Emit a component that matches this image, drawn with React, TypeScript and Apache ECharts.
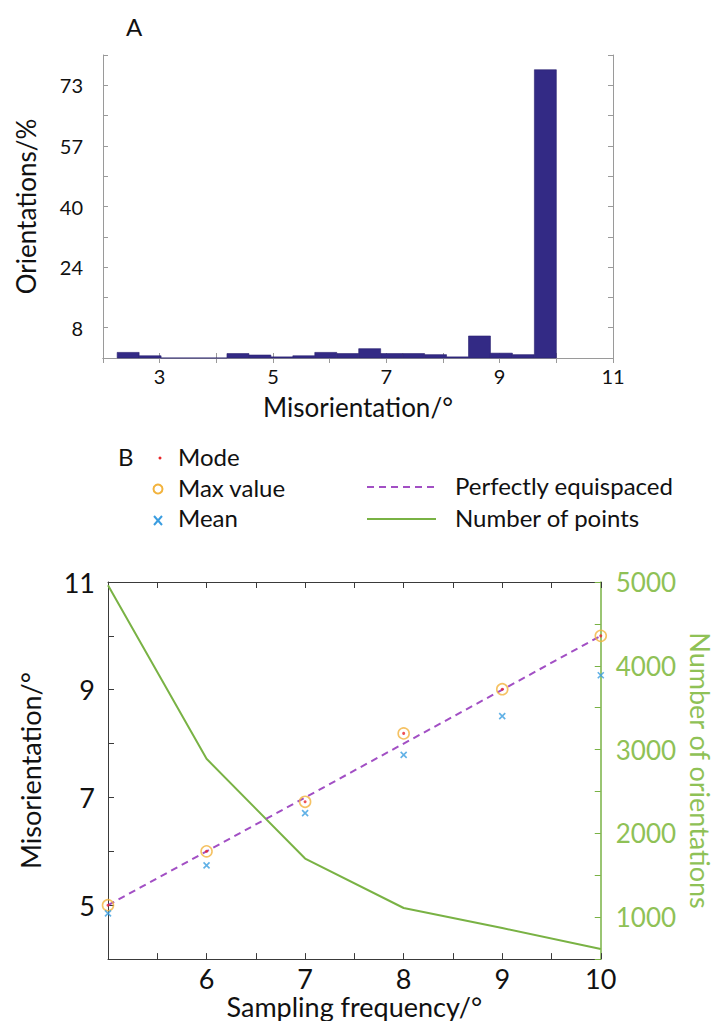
import React, { useEffect, useRef } from 'react';
import * as echarts from 'echarts';

// Panel A: histogram of misorientation (percent of orientations per bin)
const histBinStart = 2.25;
const histBinWidth = 0.3875;
const histPercent = [1.5, 0.6, 0, 0, 0, 1.2, 0.8, 0.3, 0.6, 1.5, 1.2, 2.5, 1.2, 1.2, 0.9, 0.3, 5.9, 1.3, 0.9, 77.3];
const histYStep = 8.125;
const histYTickLabels = ['8', '24', '40', '57', '73'];

// Panel B: statistics versus sampling frequency
const samplingFreq = [5, 6, 7, 8, 9, 10];
const modeValues = [5.0, 6.0, 6.92, 8.19, 9.01, 10.0];
const maxValues = [5.0, 6.0, 6.92, 8.19, 9.01, 10.0];
const meanValues = [4.85, 5.74, 6.71, 7.79, 8.51, 9.27];
const pointCounts = [4960, 2890, 1700, 1110, 870, 620];
const equispacedEnds = [5, 10];

const FONT = 'Lato';
const BAR = '#332a85';
const GREEN_LINE = '#79b244';
const GREEN_TEXT = '#8fc156';
const PURPLE = '#a24fc4';
const ORANGE = '#f2b33d';
const RED = '#e8262a';
const BLUE = '#3a9de0';
const INK = '#111111';

const xMark = 'path://M0,0L10,10M10,0L0,10';

export default function App() {
  const ref = useRef<HTMLDivElement>(null);

  useEffect(() => {
    if (!ref.current) return;
    const chart = echarts.init(ref.current, undefined, { renderer: 'svg' });

    const histData = histPercent.map((v, i) => [
      histBinStart + i * histBinWidth,
      histBinStart + (i + 1) * histBinWidth,
      v,
    ]);

    const grayAxis = { lineStyle: { color: '#9a9a9a', width: 1 } };
    const darkAxis = { lineStyle: { color: '#3a3a3a', width: 1 } };

    const option: any = {
      animation: false,
      backgroundColor: '#ffffff',
      textStyle: { fontFamily: FONT },
      grid: [
        { left: 103, top: 55, width: 510, height: 303 },
        { left: 108, top: 582, width: 498, height: 386 },
      ],
      xAxis: [
        {
          gridIndex: 0,
          type: 'value',
          min: 2,
          max: 11,
          interval: 1,
          position: 'bottom',
          axisLine: grayAxis,
          axisTick: { inside: true, length: 5, lineStyle: { color: '#9a9a9a' } },
          splitLine: { show: false },
          axisLabel: {
            fontFamily: FONT,
            fontSize: 20,
            color: INK,
            margin: 8,
            formatter: (v: number) => (v % 2 === 1 ? String(v) : ''),
          },
          name: 'Misorientation/°',
          nameLocation: 'middle',
          nameGap: 36,
          nameTextStyle: { fontFamily: FONT, fontSize: 26, color: INK },
        },
        {
          gridIndex: 0,
          type: 'value',
          min: 2,
          max: 11,
          interval: 1,
          position: 'top',
          axisLine: grayAxis,
          axisTick: { inside: true, length: 5, lineStyle: { color: '#9a9a9a' } },
          splitLine: { show: false },
          axisLabel: { show: false },
        },
        {
          gridIndex: 1,
          type: 'value',
          min: 5,
          max: 10,
          interval: 0.5,
          position: 'bottom',
          axisLine: darkAxis,
          axisTick: { inside: true, length: 6, lineStyle: { color: '#3a3a3a' } },
          splitLine: { show: false },
          axisLabel: {
            fontFamily: FONT,
            fontSize: 27,
            color: INK,
            margin: 6,
            formatter: (v: number) => (Number.isInteger(v) && v > 5 ? String(v) : ''),
          },
          name: 'Sampling frequency/°',
          nameLocation: 'middle',
          nameGap: 28,
          nameTextStyle: { fontFamily: FONT, fontSize: 27, color: INK },
        },
        {
          gridIndex: 1,
          type: 'value',
          min: 5,
          max: 10,
          interval: 0.5,
          position: 'top',
          axisLine: darkAxis,
          axisTick: { inside: true, length: 6, lineStyle: { color: '#3a3a3a' } },
          splitLine: { show: false },
          axisLabel: { show: false },
        },
      ],
      yAxis: [
        {
          gridIndex: 0,
          type: 'value',
          min: 0,
          max: histYStep * 10,
          interval: histYStep,
          position: 'left',
          axisLine: { show: true, ...grayAxis },
          axisTick: { show: true, inside: true, length: 5, lineStyle: { color: '#9a9a9a' } },
          splitLine: { show: false },
          axisLabel: {
            fontFamily: FONT,
            fontSize: 20,
            color: INK,
            margin: 20,
            formatter: (v: number) => {
              const k = Math.round(v / histYStep);
              return k % 2 === 1 ? histYTickLabels[(k - 1) / 2] ?? '' : '';
            },
          },
          name: 'Orientations/%',
          nameLocation: 'middle',
          nameGap: 64,
          nameTextStyle: { fontFamily: FONT, fontSize: 26, color: INK },
        },
        {
          gridIndex: 0,
          type: 'value',
          min: 0,
          max: histYStep * 10,
          interval: histYStep,
          position: 'right',
          axisLine: { show: true, ...grayAxis },
          axisTick: { show: true, inside: true, length: 5, lineStyle: { color: '#9a9a9a' } },
          splitLine: { show: false },
          axisLabel: { show: false },
        },
        {
          gridIndex: 1,
          type: 'value',
          min: 4,
          max: 11,
          interval: 1,
          position: 'left',
          axisLine: { show: true, ...darkAxis },
          axisTick: { show: true, inside: true, length: 6, lineStyle: { color: '#3a3a3a' } },
          splitLine: { show: false },
          axisLabel: {
            fontFamily: FONT,
            fontSize: 27,
            color: INK,
            margin: 13,
            formatter: (v: number) => (v % 2 === 1 ? String(v) : ''),
          },
          name: 'Misorientation/°',
          nameLocation: 'middle',
          nameGap: 64,
          nameTextStyle: { fontFamily: FONT, fontSize: 27, color: INK },
        },
        {
          gridIndex: 1,
          type: 'value',
          min: 500,
          max: 5000,
          interval: 500,
          position: 'right',
          axisLine: { show: true, lineStyle: { color: GREEN_LINE, width: 1.5 } },
          axisTick: { show: true, inside: true, length: 6, lineStyle: { color: GREEN_LINE } },
          splitLine: { show: false },
          axisLabel: {
            fontFamily: FONT,
            fontSize: 26,
            color: GREEN_TEXT,
            margin: 15,
            formatter: (v: number) => (v % 1000 === 0 ? String(v) : ''),
          },
          name: 'Number of orientations',
          nameLocation: 'middle',
          nameRotate: -90,
          nameGap: 84,
          nameTextStyle: { fontFamily: FONT, fontSize: 27, color: GREEN_TEXT },
        },
      ],
      series: [
        {
          type: 'custom',
          name: 'Orientations',
          xAxisIndex: 0,
          yAxisIndex: 0,
          data: histData,
          encode: { x: [0, 1], y: 2 },
          renderItem: (_params: any, api: any) => {
            const top = api.coord([api.value(0), api.value(2)]);
            const base = api.coord([api.value(1), 0]);
            return {
              type: 'rect',
              shape: { x: top[0], y: top[1], width: base[0] - top[0], height: base[1] - top[1] },
              style: { fill: BAR, stroke: '#2a2270', lineWidth: 0.6 },
            };
          },
        },
        {
          type: 'line',
          name: 'Number of points',
          xAxisIndex: 2,
          yAxisIndex: 3,
          data: samplingFreq.map((f, i) => [f, pointCounts[i]]),
          symbol: 'none',
          lineStyle: { color: GREEN_LINE, width: 2 },
          z: 2,
        },
        {
          type: 'line',
          name: 'Perfectly equispaced',
          xAxisIndex: 2,
          yAxisIndex: 2,
          data: equispacedEnds.map((v) => [v, v]),
          symbol: 'none',
          lineStyle: { color: PURPLE, width: 2, type: [7, 5] },
          z: 3,
        },
        {
          type: 'scatter',
          name: 'Max value',
          xAxisIndex: 2,
          yAxisIndex: 2,
          data: samplingFreq.map((f, i) => [f, maxValues[i]]),
          symbol: 'circle',
          symbolSize: 11,
          itemStyle: { color: 'rgba(0,0,0,0)', borderColor: ORANGE, borderWidth: 1.6 },
          z: 4,
        },
        {
          type: 'scatter',
          name: 'Mode',
          xAxisIndex: 2,
          yAxisIndex: 2,
          data: samplingFreq.map((f, i) => [f, modeValues[i]]),
          symbol: 'circle',
          symbolSize: 3,
          itemStyle: { color: RED },
          z: 5,
        },
        {
          type: 'scatter',
          name: 'Mean',
          xAxisIndex: 2,
          yAxisIndex: 2,
          data: samplingFreq.map((f, i) => [f, meanValues[i]]),
          symbol: xMark,
          symbolSize: 6,
          itemStyle: { color: 'rgba(0,0,0,0)', borderColor: BLUE, borderWidth: 1.6 },
          z: 5,
        },
      ],
      graphic: [
        {
          type: 'text',
          left: 126,
          top: 14,
          style: { text: 'A', fontFamily: FONT, fontSize: 24, fill: INK },
        },
        {
          type: 'text',
          left: 118,
          top: 444,
          style: { text: 'B', fontFamily: FONT, fontSize: 24, fill: INK },
        },
        { type: 'circle', shape: { cx: 160, cy: 458, r: 1.5 }, style: { fill: RED } },
        {
          type: 'text',
          left: 178,
          top: 444,
          style: { text: 'Mode', fontFamily: FONT, fontSize: 24, fill: INK },
        },
        {
          type: 'circle',
          shape: { cx: 158, cy: 489, r: 4.5 },
          style: { fill: 'none', stroke: ORANGE, lineWidth: 2 },
        },
        {
          type: 'text',
          left: 178,
          top: 475,
          style: { text: 'Max value', fontFamily: FONT, fontSize: 24, fill: INK },
        },
        {
          type: 'line',
          shape: { x1: 154, y1: 516, x2: 162, y2: 525 },
          style: { stroke: BLUE, lineWidth: 2 },
        },
        {
          type: 'line',
          shape: { x1: 162, y1: 516, x2: 154, y2: 525 },
          style: { stroke: BLUE, lineWidth: 2 },
        },
        {
          type: 'text',
          left: 178,
          top: 505,
          style: { text: 'Mean', fontFamily: FONT, fontSize: 24, fill: INK },
        },
        {
          type: 'line',
          shape: { x1: 367, y1: 487, x2: 436, y2: 487 },
          style: { stroke: PURPLE, lineWidth: 2, lineDash: [7, 5] },
        },
        {
          type: 'text',
          left: 455,
          top: 473,
          style: { text: 'Perfectly equispaced', fontFamily: FONT, fontSize: 24, fill: INK },
        },
        {
          type: 'line',
          shape: { x1: 367, y1: 519, x2: 436, y2: 519 },
          style: { stroke: GREEN_LINE, lineWidth: 2 },
        },
        {
          type: 'text',
          left: 455,
          top: 505,
          style: { text: 'Number of points', fontFamily: FONT, fontSize: 24, fill: INK },
        },
      ],
    };

    chart.setOption(option);
    return () => chart.dispose();
  }, []);

  return (
    <div
      ref={ref}
      style={{ position: 'absolute', left: 0, top: 0, width: 722, height: 1021, background: '#fff' }}
    />
  );
}
